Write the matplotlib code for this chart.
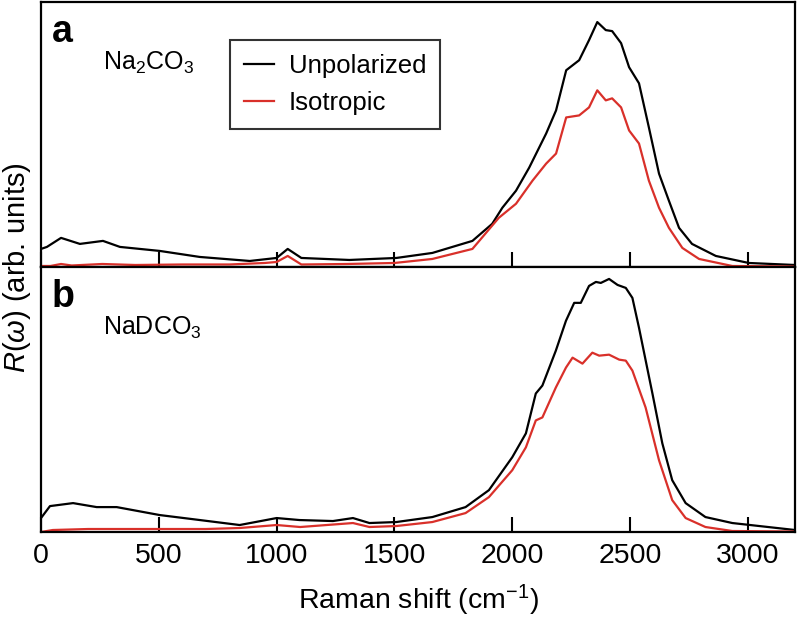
import matplotlib
matplotlib.use("Agg")
import matplotlib.pyplot as plt

plt.rcParams['font.family'] = ['Liberation Sans', 'DejaVu Sans']
plt.rcParams['mathtext.fontset'] = 'custom'
plt.rcParams['mathtext.rm'] = 'Liberation Sans'
plt.rcParams['mathtext.it'] = 'Liberation Sans:italic'
plt.rcParams['mathtext.cal'] = 'Liberation Sans'

# Panel a: Na2CO3 (arb. units)
a_unpol_x = [0, 25, 85, 165, 263, 335, 504, 674, 886, 1000, 1047, 1105, 1309, 1508,
             1661, 1831, 1915, 1958, 2016, 2072, 2144, 2186, 2229, 2284, 2326, 2361,
             2397, 2424, 2462, 2496, 2538, 2580, 2623, 2665, 2708, 2763, 2864, 3004, 3200]
a_unpol_y = [18, 20, 29, 23, 26, 20, 16, 10, 6, 9, 18, 9, 7, 9,
             14, 26, 43, 59, 76, 99, 133, 156, 196, 206, 226, 244,
             236, 235, 223, 199, 183, 139, 93, 66, 39, 23, 11, 4, 2]
a_iso_x = [0, 40, 85, 130, 260, 400, 600, 800, 950, 1000, 1047, 1105, 1300, 1500,
           1661, 1831, 1943, 2016, 2086, 2144, 2186, 2229, 2284, 2326, 2361,
           2397, 2424, 2462, 2496, 2538, 2580, 2623, 2665, 2722, 2793, 2934, 3200]
a_iso_y = [1, 1, 3, 1.5, 3, 2, 2.5, 2.5, 4, 5, 11, 2.5, 3, 4,
           8, 18, 49, 63, 86, 103, 113, 149, 151, 159, 176,
           166, 168, 159, 136, 123, 86, 59, 39, 19, 8, 1, 0.5]

# Panel b: NaDCO3
b_unpol_x = [0, 38, 136, 236, 321, 504, 674, 843, 1000, 1097, 1239, 1324, 1394, 1508,
             1661, 1802, 1901, 2000, 2058, 2100, 2128, 2185, 2228, 2263, 2291, 2326,
             2355, 2376, 2411, 2447, 2482, 2510, 2538, 2595, 2637, 2679, 2736, 2820,
             2934, 3200]
b_unpol_y = [14, 26, 29, 25, 25, 17, 12, 7, 14, 12, 11, 14, 9, 10,
             15, 25, 42, 75, 99, 139, 147, 182, 212, 230, 230, 247,
             251, 250, 254, 248, 245, 235, 205, 139, 89, 52, 29, 15,
             9, 2]
b_iso_x = [0, 50, 200, 400, 700, 843, 1000, 1100, 1324, 1394, 1508,
           1661, 1802, 1901, 2000, 2058, 2100, 2128, 2185, 2228, 2256, 2298, 2340,
           2369, 2411, 2454, 2482, 2510, 2566, 2623, 2679, 2736, 2820, 2934, 3200]
b_iso_y = [0, 2, 3, 3, 3, 4, 7, 5, 9, 5, 6,
           10, 19, 35, 62, 85, 112, 115, 145, 165, 175, 169, 180,
           177, 178, 173, 172, 162, 125, 72, 32, 14, 5, 1, 0.5]

xticks = [0, 500, 1000, 1500, 2000, 2500, 3000]

fig = plt.figure(figsize=(7.98, 6.22), dpi=100)
gs = fig.add_gridspec(2, 1, hspace=0, left=0.0514, right=0.9962,
                      top=0.9968, bottom=0.1447)
ax_a = fig.add_subplot(gs[0])
ax_b = fig.add_subplot(gs[1], sharex=ax_a)

panels = [
    (ax_a, a_unpol_x, a_unpol_y, a_iso_x, a_iso_y, 264, 'a', 'Na$_2$CO$_3$'),
    (ax_b, b_unpol_x, b_unpol_y, b_iso_x, b_iso_y, 266, 'b', 'NaDCO$_3$'),
]

for ax, ux, uy, ix, iy, ymax, letter, name in panels:
    ax.plot(ux, uy, color='black', lw=1.6, label='Unpolarized')
    ax.plot(ix, iy, color='#d9302a', lw=1.6, label='Isotropic')
    ax.set_xlim(0, 3200)
    ax.set_ylim(0, ymax)
    ax.set_yticks([])
    ax.set_xticks(xticks)
    ax.tick_params(axis='x', direction='in', length=11, width=1.5,
                   labelsize=20.5, pad=8)
    for s in ax.spines.values():
        s.set_linewidth(1.6)
    ax.text(0.014, 0.955, letter, transform=ax.transAxes, fontsize=27,
            fontweight='bold', va='top', ha='left')
    ax.text(0.082, 0.77, name, transform=ax.transAxes, fontsize=18,
            va='center', ha='left')

ax_a.tick_params(axis='x', labelbottom=False)

leg = ax_a.legend(loc='upper left', bbox_to_anchor=(0.250, 0.856), fontsize=18.5,
                  frameon=True, fancybox=False, edgecolor='black',
                  handlelength=1.2, handletextpad=0.55, borderpad=0.55,
                  labelspacing=0.5, borderaxespad=0)
leg.get_frame().set_linewidth(1.5)

ax_b.set_xlabel('Raman shift (cm$^{-1}$)', fontsize=20.5, labelpad=10)
fig.text(0.021, 0.569, r'$\it{R}$($\omega$) (arb. units)', rotation=90,
         fontsize=21, va='center', ha='center')

fig.savefig('out.png', dpi=100)
